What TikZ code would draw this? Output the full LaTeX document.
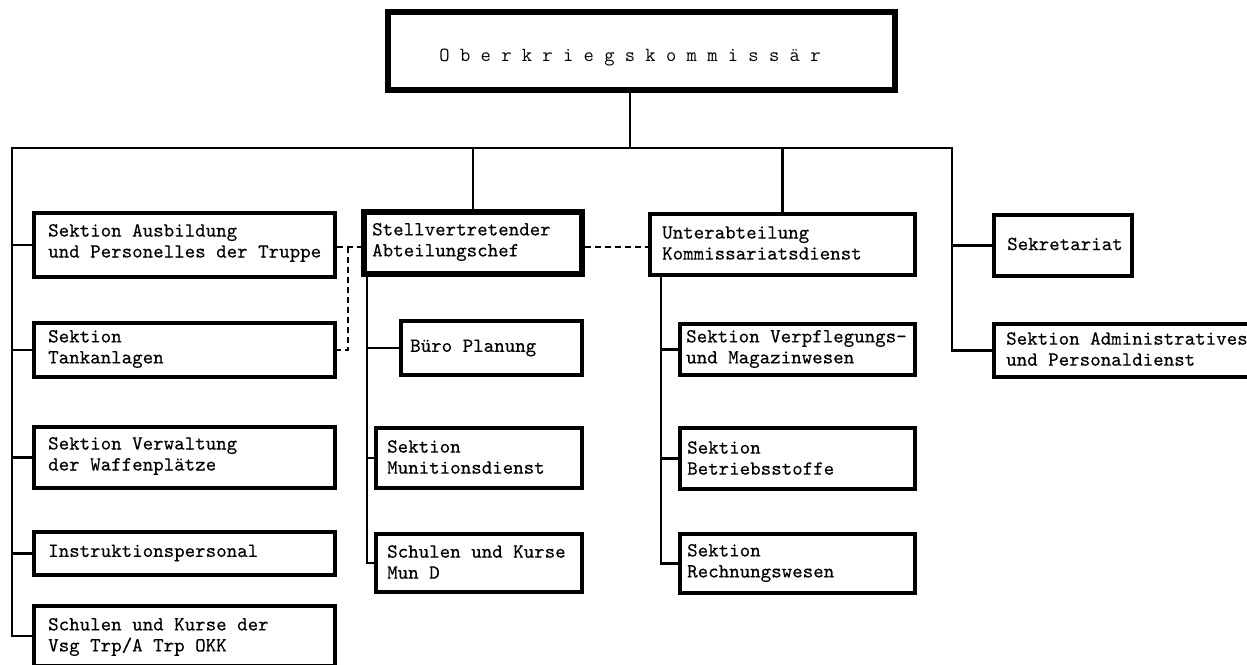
\documentclass[tikz,border=0pt]{standalone}
\usepackage{fontspec}
\newfontfamily\twfont{lmmono10-regular.otf}[FakeBold=0.2]
\newcommand\boxfont{\fontsize{20}{21}\selectfont\twfont}
\tikzset{
  orgbox/.style={draw, rectangle, line width=3.4pt, inner sep=0pt},
  heavybox/.style={orgbox, line width=5.5pt},
  txt/.style={inner sep=0pt, anchor=west, align=left, font=\boxfont},
  conn/.style={line width=2.6pt, line cap=rect},
  dashconn/.style={line width=2.2pt, dash pattern=on 6pt off 4pt}
}
\begin{document}
\begin{tikzpicture}[x=1pt,y=-1pt]
\useasboundingbox (0,0) rectangle (1247,664);
\fill[white] (0,0) rectangle (1247,664);

% top
\node[heavybox, line width=6pt, minimum width=507pt, minimum height=78pt] (top) at (641.5,51) {};
\node[inner sep=0pt, anchor=base, font=\fontsize{20}{21}\selectfont\ttfamily] (title) at (630,61) {O b e r k r i e g s k o m m i s s ä r};

% left column
\node[orgbox, minimum width=301pt, minimum height=64pt] (A1) at (184.5,245) {};
\node[orgbox, minimum width=301pt, minimum height=54pt] (A2) at (184.5,350) {};
\node[orgbox, minimum width=301pt, minimum height=61pt] (A3) at (184.5,457.5) {};
\node[orgbox, minimum width=301pt, minimum height=43pt] (A4) at (184.5,553.5) {};
\node[orgbox, minimum width=301pt, minimum height=60pt] (A5) at (184.5,636) {};
\node[txt] (tA1) at (48,243) {Sektion Ausbildung\\und Personelles der Truppe};
\node[txt] (tA2) at (48,349) {Sektion\\Tankanlagen};
\node[txt] (tA3) at (48,456) {Sektion Verwaltung\\der Waffenplätze};
\node[txt] (tA4) at (48,553) {Instruktionspersonal};
\node[txt] (tA5) at (48,637) {Schulen und Kurse der\\Vsg Trp/A Trp OKK};

% Stellvertretender column
\node[heavybox, minimum width=218pt, minimum height=62pt] (Stv) at (473,243) {};
\node[orgbox, minimum width=181pt, minimum height=54pt] (B) at (491.5,348) {};
\node[orgbox, minimum width=206pt, minimum height=60pt] (M1) at (479,458) {};
\node[orgbox, minimum width=206pt, minimum height=58pt] (M2) at (479,563) {};
\node[txt] (tStv) at (372,242) {Stellvertretender\\Abteilungschef};
\node[txt] (tB) at (410,348) {Büro Planung};
\node[txt] (tM1) at (387,457) {Sektion\\Munitionsdienst};
\node[txt] (tM2) at (387,562) {Schulen und Kurse\\Mun D};

% Unterabteilung column
\node[orgbox, minimum width=265pt, minimum height=61pt] (U) at (782.5,244.5) {};
\node[orgbox, minimum width=235pt, minimum height=51pt] (K1) at (797.5,349.5) {};
\node[orgbox, minimum width=235pt, minimum height=61pt] (K2) at (797.5,458.5) {};
\node[orgbox, minimum width=235pt, minimum height=59pt] (K3) at (797.5,563.5) {};
\node[txt] (tU) at (662,243) {Unterabteilung\\Kommissariatsdienst};
\node[txt] (tK1) at (686,349) {Sektion Verpflegungs-\\und Magazinwesen};
\node[txt] (tK2) at (687,458) {Sektion\\Betriebsstoffe};
\node[txt] (tK3) at (687,563) {Sektion\\Rechnungswesen};

% right column
\node[orgbox, minimum width=138pt, minimum height=61pt] (Sek) at (1063,245.5) {};
\node[orgbox, minimum width=268pt, minimum height=53pt] (Adm) at (1128,350.5) {};
\node[txt] (tSek) at (1007,244) {Sekretariat};
\node[txt] (tAdm) at (1006,349) {Sektion Administratives\\und Personaldienst};

% bus coordinates
\coordinate (busL) at (12,148);
\coordinate (busR) at (952,148);
\coordinate (sv) at (367,274);
\coordinate (uv) at (661,275);
\coordinate (d1) at (348,247);

% solid connectors
\draw[conn] (title |- top.south) -- (title |- busL);
\draw[conn] (A5.west) -| (busL) -- (busR) |- (Adm.west);
\draw[conn] (A1.west) -- (A1.west -| busL);
\draw[conn] (A2.west) -- (A2.west -| busL);
\draw[conn] (A3.west) -- (A3.west -| busL);
\draw[conn] (A4.west) -- (A4.west -| busL);
\draw[conn] (Sek.west) -- (Sek.west -| busR);
\draw[conn] (Stv.north) -- (Stv.north |- busL);
\draw[conn] (U.north) -- (U.north |- busL);
\draw[conn] (sv) |- (M2.west);
\draw[conn] (B.west) -- (B.west -| sv);
\draw[conn] (M1.west) -- (M1.west -| sv);
\draw[conn] (uv) |- (K3.west);
\draw[conn] (K1.west) -- (K1.west -| uv);
\draw[conn] (K2.west) -- (K2.west -| uv);

% dashed connectors
\draw[dashconn] (A1.east |- d1) -- (Stv.west |- d1);
\draw[dashconn] (d1) |- (A2.east);
\draw[dashconn] (Stv.east |- d1) -- (U.west |- d1);
\end{tikzpicture}
\end{document}
